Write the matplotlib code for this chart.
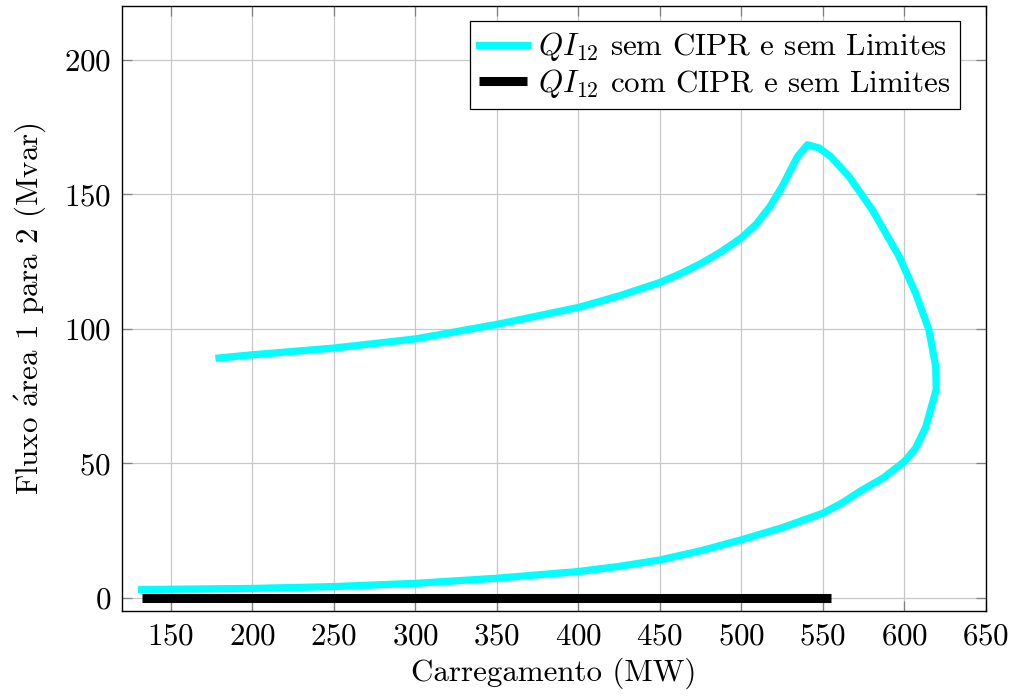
import matplotlib
matplotlib.use("Agg")
import matplotlib.pyplot as plt

# ------------------------------------------------------------------
# Dados (Carregamento em MW, fluxo em Mvar)
# ------------------------------------------------------------------
carga_sem_cipr = [179.5, 200, 250, 300, 350, 400, 425, 450, 462, 475, 487, 500,
                  509, 517.6, 525, 534.4, 540.5, 547.7, 554.8, 566, 580.3,
                  596.7, 606.9, 615, 619.2, 619.5, 613, 606.9, 600, 587, 574,
                  562, 550, 525, 500, 475, 450, 425, 400, 350, 300, 250, 200, 132]
fluxo_sem_cipr = [89.1, 90.3, 92.8, 96.2, 101.6, 107.9, 112.2, 117.2, 120.3, 124.2, 128.4, 133.8,
                  138.8, 145.5, 152.9, 164, 168.4, 167.2, 164, 156.6, 144.2,
                  126.9, 113.2, 99.6, 85.9, 77.3, 63.3, 55.6, 50.6, 44.5, 40,
                  35.3, 31.4, 26, 21.5, 17.4, 14, 11.6, 9.7, 7.2, 5.3, 4.1, 3.4, 3.0]

carga_com_cipr = [132, 555]
fluxo_com_cipr = [0, 0]

x_ticks = [150, 200, 250, 300, 350, 400, 450, 500, 550, 600, 650]
y_ticks = [0, 50, 100, 150, 200]

# estilo parecido com pgfplots / LaTeX
plt.rcParams["font.family"] = ["cmr10", "DejaVu Serif"]
plt.rcParams["mathtext.fontset"] = "cm"
plt.rcParams["axes.formatter.use_mathtext"] = True
plt.rcParams["font.size"] = 22.3

fig = plt.figure(figsize=(10.14, 6.98), dpi=100)
ax = fig.add_axes([0.1203, 0.1246, 0.852, 0.8668])

ax.plot(carga_sem_cipr, fluxo_sem_cipr, color="#00ffff", lw=5.2,
        solid_joinstyle="round", label=r"$QI_{12}$ sem CIPR e sem Limites")
ax.plot(carga_com_cipr, fluxo_com_cipr, color="black", lw=6.5,
        solid_capstyle="butt", label=r"$QI_{12}$ com CIPR e sem Limites")

ax.set_xlim(120, 650)
ax.set_ylim(-5, 220)
ax.set_xticks(x_ticks)
ax.set_yticks(y_ticks)
ax.grid(True, color="#c8c8c8", lw=0.9)
ax.set_axisbelow(True)
ax.tick_params(direction="in", length=7, width=0.9, color="#808080",
               top=True, right=True, pad=8)
for s in ax.spines.values():
    s.set_linewidth(1.0)

ax.set_xlabel("Carregamento (MW)", labelpad=5)
ax.set_ylabel(r"Fluxo $\mathrm{\acute{a}}$rea 1 para 2 (Mvar)", labelpad=11)

leg = ax.legend(loc="upper right", bbox_to_anchor=(0.970, 0.975),
                borderaxespad=0, fancybox=False, framealpha=1,
                edgecolor="black", handlelength=1.55, handletextpad=0.35,
                borderpad=0.3, labelspacing=0.12)
leg.get_frame().set_linewidth(0.9)

fig.savefig("out.png", dpi=100)
